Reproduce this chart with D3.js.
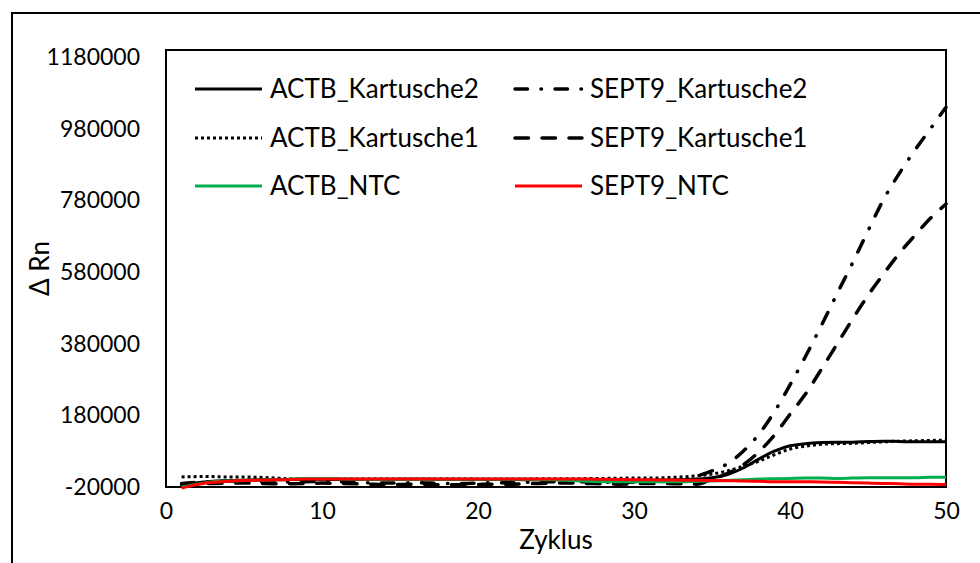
<!DOCTYPE html>
<html>
<head>
<meta charset="utf-8">
<script src="https://cdn.jsdelivr.net/npm/d3@7/dist/d3.min.js"></script>
<style>
  html, body { margin: 0; padding: 0; background: #fff; }
  svg { display: block; font-family: Lato, "Open Sans", sans-serif; }
</style>
</head>
<body>
<svg id="chart" width="980" height="563"></svg>
<script>
// qPCR amplification curves, cycles 1..50
const cycles = d3.range(1, 51);

const actbK2 = [-15000, -8000, -4000, -2000, -1000, 0, 0, 1000, 1500, 1500,
  1000, 1000, 1000, 1000, 1500, 1500, 1500, 1000, 1000, 1000,
  1000, 1000, 500, 500, 500, 0, 0, -500, -1000, -1000,
  -1000, -500, 0, 2000, 6000, 15000, 33000, 58000, 80000, 95000,
  101000, 104000, 105000, 105000, 107000, 108000, 107000, 106000, 106000, 106000];

const sept9K2 = [-10000, -7000, -5000, -4000, -4000, -5000, -6000, -6000, -5000, -4000,
  -5000, -7000, -8000, -9000, -9000, -8000, -9000, -10000, -10000, -9000,
  -8000, -8000, -7000, -6000, -5000, -5000, -6000, -7000, -7000, -6000,
  -5000, -4000, -2000, 10000, 25000, 45000, 80000, 127000, 190000, 265000,
  345000, 430000, 518000, 605000, 695000, 783000, 855000, 920000, 980000, 1040000];

const actbK1 = [8000, 9000, 9000, 8000, 8000, 7000, 5000, 3000, 3000, 2500,
  2500, 2500, 3000, 3000, 2500, 2500, 2500, 3000, 3000, 2500,
  2500, 2500, 2500, 3000, 3000, 3000, 3500, 4000, 4500, 5000,
  5000, 6000, 8000, 11000, 16000, 25000, 38000, 52000, 70000, 86000,
  94000, 99000, 101000, 102000, 104000, 106000, 108000, 109000, 110000, 111000];

const sept9K1 = [-14000, -12000, -10000, -9000, -9000, -10000, -11000, -11000, -10000, -9000,
  -10000, -11000, -12000, -13000, -13000, -12000, -13000, -14000, -14000, -13000,
  -12000, -12000, -11000, -10000, -9000, -9000, -10000, -11000, -12000, -11000,
  -10000, -10000, -11000, -12000, 2000, 18000, 42000, 78000, 125000, 183000,
  240000, 308000, 378000, 448000, 515000, 575000, 632000, 682000, 730000, 770000];

const actbNTC = [-20000, -12000, -5000, -3000, -2000, -1000, 0, 2000, 4000, 4000,
  3000, 2000, 1500, 1500, 1500, 1500, 1500, 1500, 1500, 1500,
  1500, 1500, 1500, 1000, 0, -2000, -4000, -5000, -5000, -5000,
  -5000, -5000, -5000, -4000, -3000, -2000, 0, 2000, 3000, 4000,
  5000, 5000, 4000, 5000, 6000, 6000, 6000, 6000, 7000, 7000];

const sept9NTC = [-23000, -13000, -7000, -4000, -2000, -1000, 0, 1000, 2000, 2500,
  2500, 2500, 2500, 2500, 2500, 2500, 2500, 2500, 2500, 2500,
  2500, 2500, 2500, 2500, 2500, 2500, 2000, 1500, 1000, 500,
  0, -500, -1000, -1500, -2000, -2500, -3000, -4000, -5000, -5000,
  -5500, -6000, -7000, -8000, -9000, -10000, -11000, -12000, -12000, -13000];

const xTicks = [0, 10, 20, 30, 40, 50];
const yTicks = [-20000, 180000, 380000, 580000, 780000, 980000, 1180000];

// series in drawing order, with legend placement (column, row)
const series = [
  { name: "ACTB_Kartusche2",  values: actbK2,  color: "#000", width: 3,   dash: null,                 cap: "butt",  col: 0, row: 0 },
  { name: "SEPT9_Kartusche2", values: sept9K2, color: "#000", width: 3.5, dash: "12.5,13.5,0.5,13.5", cap: "round", col: 1, row: 0 },
  { name: "ACTB_Kartusche1",  values: actbK1,  color: "#000", width: 3,   dash: "3,3",                cap: "butt",  col: 0, row: 1 },
  { name: "SEPT9_Kartusche1", values: sept9K1, color: "#000", width: 3.5, dash: "13.5,13.5",          cap: "round", col: 1, row: 1 },
  { name: "ACTB_NTC",         values: actbNTC, color: "#00b050", width: 3, dash: null,               cap: "butt",  col: 0, row: 2 },
  { name: "SEPT9_NTC",        values: sept9NTC, color: "#ff0000", width: 3, dash: null,              cap: "butt",  col: 1, row: 2 }
];

const svg = d3.select("#chart");

// outer chart frame (runs off the right and bottom edges)
svg.append("rect")
  .attr("x", 12).attr("y", 13)
  .attr("width", 1000).attr("height", 600)
  .attr("fill", "none").attr("stroke", "#000").attr("stroke-width", 2);

const plot = { left: 166, right: 946, top: 50, bottom: 487 };

const x = d3.scaleLinear().domain([0, 50]).range([plot.left, plot.right]);
const y = d3.scaleLinear().domain([-20000, 1200000]).range([plot.bottom, plot.top]);

// plot area border
svg.append("rect")
  .attr("x", plot.left).attr("y", plot.top)
  .attr("width", plot.right - plot.left).attr("height", plot.bottom - plot.top)
  .attr("fill", "none").attr("stroke", "#000").attr("stroke-width", 2);

// axes: labels only, plain hyphen for negatives
const plain = d => String(d);
const xAxis = d3.axisBottom(x).tickValues(xTicks).tickSize(0).tickPadding(16).tickFormat(plain);
const yAxis = d3.axisLeft(y).tickValues(yTicks).tickSize(0).tickPadding(26).tickFormat(plain);

const gx = svg.append("g").attr("transform", `translate(0,${plot.bottom})`).call(xAxis);
const gy = svg.append("g").attr("transform", `translate(${plot.left},0)`).call(yAxis);
[gx, gy].forEach(g => {
  g.select(".domain").remove();
  g.selectAll("text").attr("fill", "#000").style("font-size", "23px").style("font-family", "Lato, sans-serif");
});

// axis titles
svg.append("text")
  .attr("x", (plot.left + plot.right) / 2).attr("y", 549)
  .attr("text-anchor", "middle")
  .style("font-size", "26px")
  .text("Zyklus");

svg.append("text")
  .attr("transform", `translate(49,${(plot.top + plot.bottom) / 2}) rotate(-90)`)
  .attr("text-anchor", "middle")
  .style("font-size", "26px")
  .text("Δ Rn");

// curves
const line = d3.line()
  .x((d, i) => x(cycles[i]))
  .y(d => y(d))
  .curve(d3.curveMonotoneX);

svg.append("g").selectAll("path")
  .data(series)
  .join("path")
  .attr("d", s => line(s.values))
  .attr("fill", "none")
  .attr("stroke", s => s.color)
  .attr("stroke-width", s => s.width)
  .attr("stroke-dasharray", s => s.dash)
  .attr("stroke-linecap", s => s.cap)
  .attr("stroke-linejoin", "round");

// legend
const legCols = [195, 515];
const legRows = [89, 138, 186];
const leg = svg.append("g").selectAll("g")
  .data(series)
  .join("g")
  .attr("transform", s => `translate(${legCols[s.col]},${legRows[s.row]})`);

leg.append("line")
  .attr("x1", 0).attr("x2", 67)
  .attr("stroke", s => s.color)
  .attr("stroke-width", s => s.width)
  .attr("stroke-dasharray", s => s.dash)
  .attr("stroke-linecap", s => s.cap);

leg.append("text")
  .attr("x", 75).attr("dy", "0.35em")
  .style("font-size", "26px")
  .text(s => s.name);
</script>
</body>
</html>
